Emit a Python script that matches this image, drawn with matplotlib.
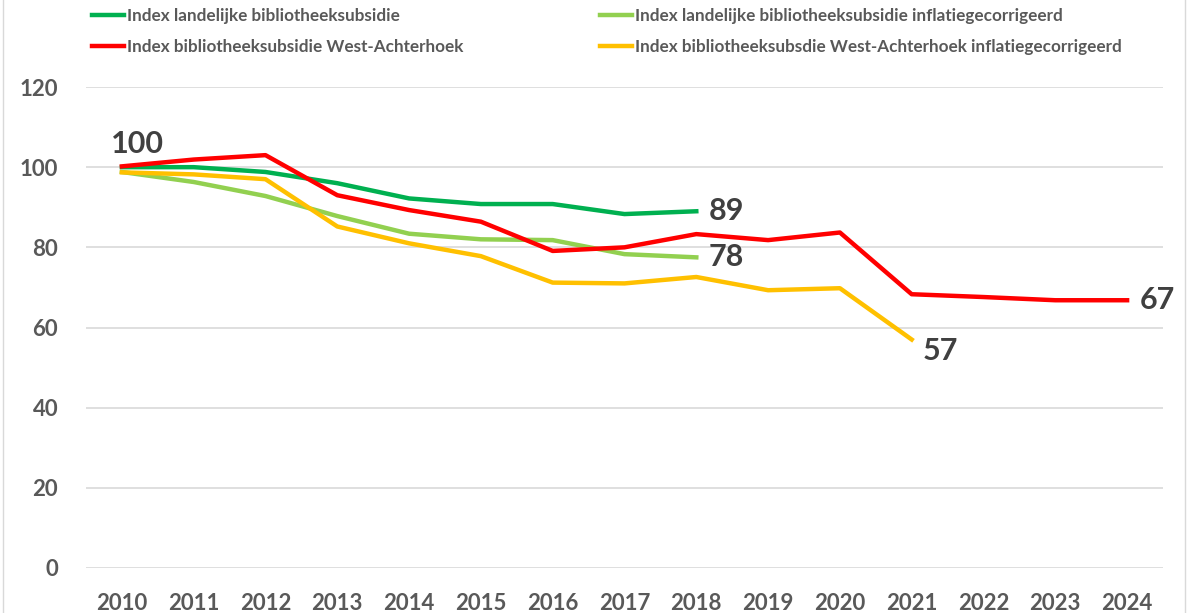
import matplotlib.pyplot as plt
from matplotlib.lines import Line2D
from matplotlib.patches import Rectangle

plt.rcParams['font.family'] = ['Lato', 'DejaVu Sans']

years = list(range(2010, 2025))

# index values
landelijk = [100, 100, 98.8, 96, 92.2, 90.8, 90.8, 88.3, 89]
landelijk_infl = [98.8, 96.3, 92.8, 87.8, 83.4, 82, 81.8, 78.3, 77.5]
west = [100.2, 101.9, 103, 93, 89.3, 86.4, 79.1, 80, 83.3, 81.8, 83.7, 68.3, 67.6, 66.8, 66.8]
west_infl = [98.7, 98.2, 97, 85.2, 81, 77.8, 71.2, 71, 72.6, 69.3, 69.8, 57]

colors = {
    "landelijk": "#00b050",
    "landelijk_infl": "#92d050",
    "west": "#ff0000",
    "west_infl": "#ffc000",
}
labels = {
    "landelijk": "Index landelijke bibliotheeksubsidie",
    "landelijk_infl": "Index landelijke bibliotheeksubsidie inflatiegecorrigeerd",
    "west": "Index bibliotheeksubsidie West-Achterhoek",
    "west_infl": "Index bibliotheeksubsdie West-Achterhoek inflatiegecorrigeerd",
}

fig = plt.figure(figsize=(11.88, 6.13), dpi=100)
ax = fig.add_axes([86 / 1188, 1 - 568 / 613, (1163 - 86) / 1188, (568 - 87) / 613])

lw = 3.2
ax.plot(years[:len(landelijk)], landelijk, color=colors["landelijk"], lw=lw, zorder=3)
ax.plot(years[:len(landelijk_infl)], landelijk_infl, color=colors["landelijk_infl"], lw=lw, zorder=3)
ax.plot(years[:len(west_infl)], west_infl, color=colors["west_infl"], lw=lw, zorder=3)
ax.plot(years[:len(west)], west, color=colors["west"], lw=lw, zorder=4)

ax.set_xlim(2009.5, 2024.5)
ax.set_ylim(0, 120)
ax.set_yticks(range(0, 121, 20))
ax.set_xticks(years)
ax.grid(axis='y', color='#d9d9d9', lw=1.2)
ax.set_axisbelow(True)
for s in ax.spines.values():
    s.set_visible(False)
ax.tick_params(length=0, labelsize=16, labelcolor='#595959')
ax.tick_params(axis='y', pad=20)
ax.tick_params(axis='x', pad=18)
for t in ax.get_xticklabels() + ax.get_yticklabels():
    t.set_fontweight('bold')

# data labels
lab_kw = dict(fontsize=22, fontweight='bold', color='#404040')
ax.annotate("100", (2010, west[0]), xytext=(-8, 6), textcoords='offset points', ha='left', va='bottom', **lab_kw)
ax.annotate("89", (2018, landelijk[-1]), xytext=(9, 0), textcoords='offset points', ha='left', va='center', **lab_kw)
ax.annotate("78", (2018, landelijk_infl[-1]), xytext=(9, 0), textcoords='offset points', ha='left', va='center', **lab_kw)
ax.annotate("57", (2021, west_infl[-1]), xytext=(8, -8), textcoords='offset points', ha='left', va='center', **lab_kw)
ax.annotate("67", (2024, west[-1]), xytext=(9, 0), textcoords='offset points', ha='left', va='center', **lab_kw)

# legend in two columns
def handles(keys):
    return [Line2D([], [], color=colors[k], lw=lw) for k in keys], [labels[k] for k in keys]

leg_kw = dict(frameon=False, loc='upper left', handlelength=1.9, handletextpad=0.15,
              labelspacing=0.9, borderaxespad=0, borderpad=0,
              prop={'size': 12.3, 'weight': 'bold'}, labelcolor='#595959')
h, l = handles(["landelijk", "west"])
fig.legend(h, l, bbox_to_anchor=(92 / 1188, 1 - 8 / 613), **leg_kw)
h, l = handles(["landelijk_infl", "west_infl"])
fig.legend(h, l, bbox_to_anchor=(600 / 1188, 1 - 8 / 613), **leg_kw)

# chart area border
fig.patches.append(Rectangle((3 / 1188, -0.05), (1185 - 3) / 1188, 1.1, transform=fig.transFigure,
                             fill=False, edgecolor='#d9d9d9', lw=1))

fig.savefig("out.png", dpi=100)
